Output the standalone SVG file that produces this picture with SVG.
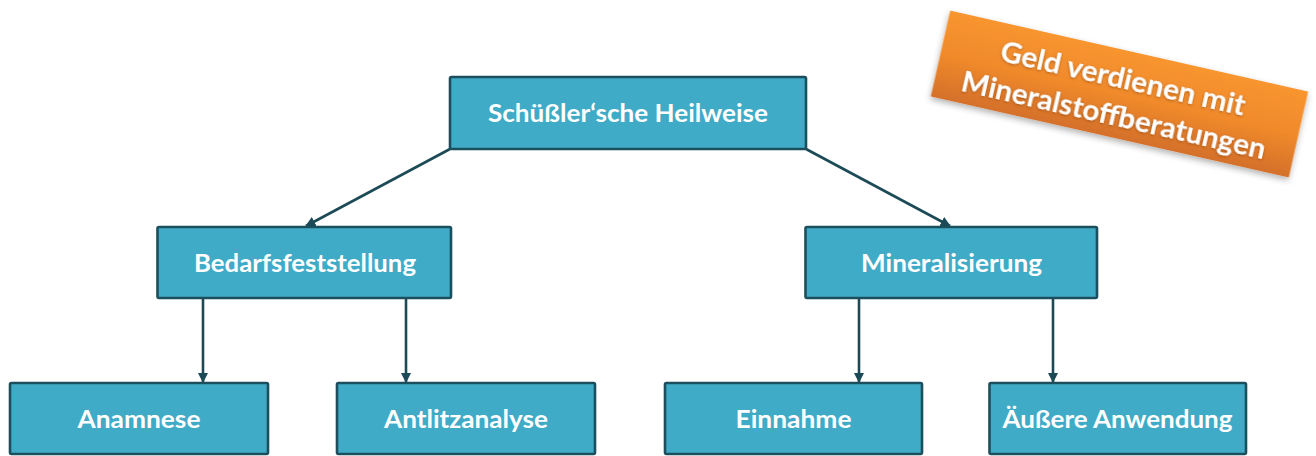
<svg xmlns="http://www.w3.org/2000/svg" width="1316" height="456" viewBox="0 0 1316 456">
  <defs>
    <style>
      .box { fill: #40abc6; stroke: #1c4f5d; stroke-width: 2.6; }
      .lbl { font-family: Lato, "Open Sans", "Liberation Sans", sans-serif; font-weight: 700; font-size: 25px; fill: #ffffff; text-anchor: middle; }
      .conn { stroke: #1c4a57; stroke-width: 2.6; fill: none; marker-end: url(#arr); }
      .ban { font-family: Lato, "Open Sans", "Liberation Sans", sans-serif; font-weight: 700; font-size: 29px; fill: #ffffff; text-anchor: middle; }
    </style>
    <marker id="arr" viewBox="0 0 10 10" refX="9" refY="5" markerWidth="4" markerHeight="4" orient="auto" markerUnits="strokeWidth">
      <path d="M0,0 L10,5 L0,10 z" fill="#1c4a57"/>
    </marker>
    <linearGradient id="og" x1="0" y1="0" x2="0" y2="1">
      <stop offset="0" stop-color="#f8952f"/>
      <stop offset="0.5" stop-color="#f08a2c"/>
      <stop offset="1" stop-color="#d4702b"/>
    </linearGradient>
    <filter id="sh" x="-10%" y="-20%" width="120%" height="150%">
      <feDropShadow dx="0" dy="3" stdDeviation="3" flood-color="#000" flood-opacity="0.3"/>
    </filter>
    <filter id="tg" x="-10%" y="-30%" width="120%" height="160%">
      <feDropShadow dx="0" dy="1" stdDeviation="1.5" flood-color="#7a3a10" flood-opacity="0.6"/>
    </filter>
  </defs>

  <g id="connectors">
    <line class="conn" x1="450" y1="149" x2="306" y2="226"/>
    <line class="conn" x1="806" y1="149" x2="950" y2="226"/>
    <line class="conn" x1="203" y1="298" x2="203" y2="382"/>
    <line class="conn" x1="406" y1="298" x2="406" y2="382"/>
    <line class="conn" x1="859" y1="298" x2="859" y2="382"/>
    <line class="conn" x1="1053" y1="298" x2="1053" y2="382"/>
  </g>

  <g id="root">
    <rect class="box" x="450" y="77" width="356" height="72" rx="1.5"/>
    <text class="lbl" x="628" y="122" textLength="280" lengthAdjust="spacingAndGlyphs">Schüßler‘sche Heilweise</text>
  </g>
  <g id="bedarf">
    <rect class="box" x="157.5" y="227" width="293.5" height="71" rx="1.5"/>
    <text class="lbl" x="305" y="271.5" textLength="222" lengthAdjust="spacingAndGlyphs">Bedarfsfeststellung</text>
  </g>
  <g id="mineral">
    <rect class="box" x="805.5" y="227" width="291.5" height="71" rx="1.5"/>
    <text class="lbl" x="951.5" y="271.5" textLength="181" lengthAdjust="spacingAndGlyphs">Mineralisierung</text>
  </g>
  <g id="anamnese">
    <rect class="box" x="10" y="383" width="258" height="71" rx="1.5"/>
    <text class="lbl" x="139" y="427.5" textLength="123" lengthAdjust="spacingAndGlyphs">Anamnese</text>
  </g>
  <g id="antlitz">
    <rect class="box" x="337" y="383" width="258" height="71" rx="1.5"/>
    <text class="lbl" x="466" y="427.5" textLength="164" lengthAdjust="spacingAndGlyphs">Antlitzanalyse</text>
  </g>
  <g id="einnahme">
    <rect class="box" x="665" y="383" width="257" height="71" rx="1.5"/>
    <text class="lbl" x="793.5" y="427.5" textLength="116" lengthAdjust="spacingAndGlyphs">Einnahme</text>
  </g>
  <g id="aeussere">
    <rect class="box" x="989.5" y="383" width="256.5" height="71" rx="1.5"/>
    <text class="lbl" x="1117.5" y="427.5" textLength="230" lengthAdjust="spacingAndGlyphs">Äußere Anwendung</text>
  </g>

  <g id="banner" transform="translate(1119.5,94) rotate(12.75)">
    <rect x="-183.5" y="-44" width="367" height="88" fill="url(#og)" filter="url(#sh)"/>
    <g filter="url(#tg)">
      <text class="ban" x="0" y="-6" textLength="250" lengthAdjust="spacingAndGlyphs">Geld verdienen mit</text>
      <text class="ban" x="-1" y="32" textLength="311" lengthAdjust="spacingAndGlyphs">Mineralstoffberatungen</text>
    </g>
  </g>
</svg>
